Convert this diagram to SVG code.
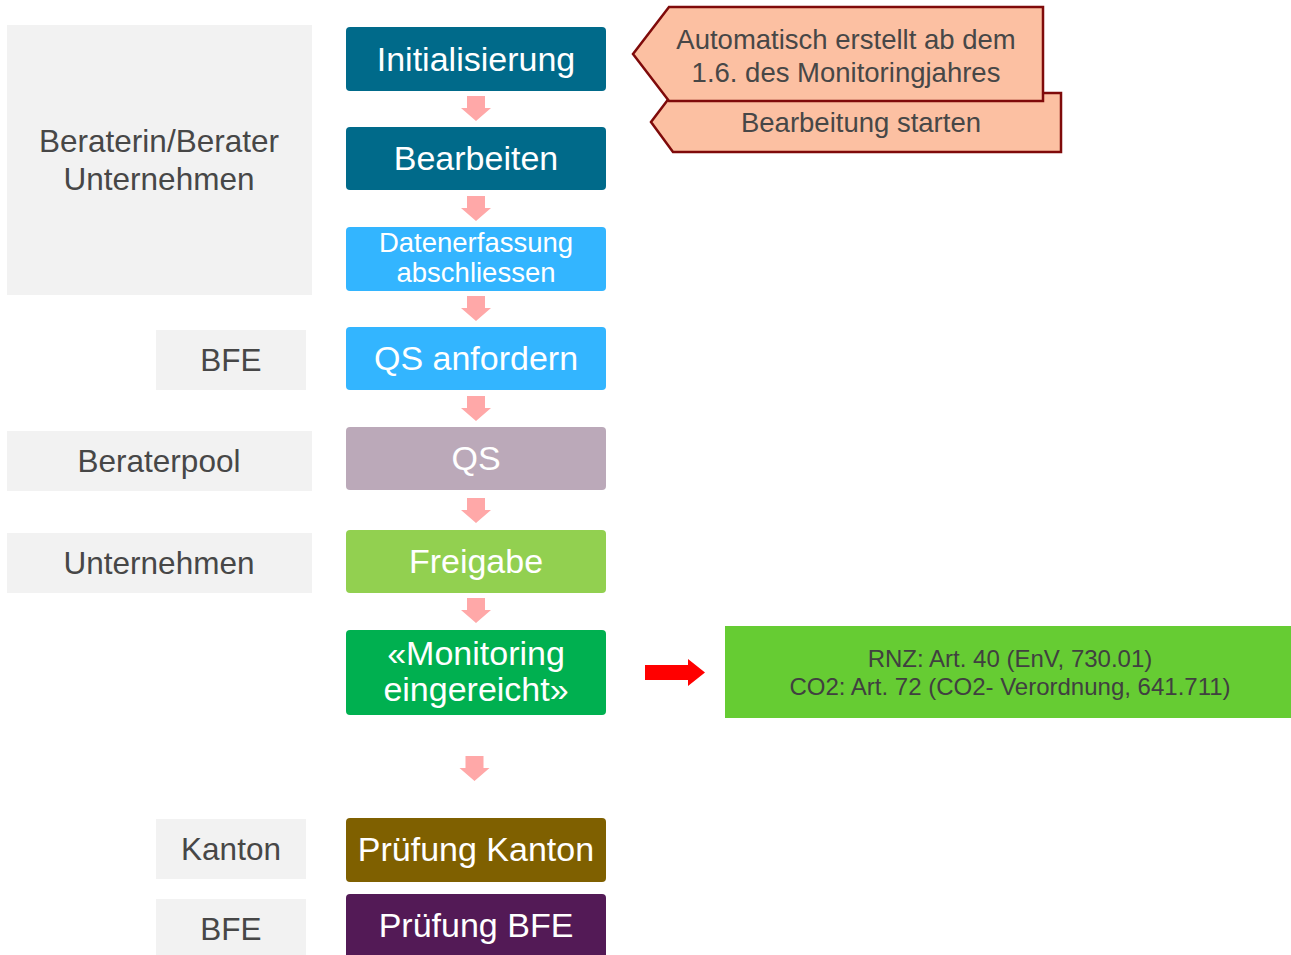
<svg xmlns="http://www.w3.org/2000/svg" width="1291" height="955" viewBox="0 0 1291 955">
<style>
.lane{fill:#f2f2f2}
.lt{font-family:"Liberation Sans",Arial,sans-serif;font-size:31.5px;fill:#474747;text-anchor:middle}
.bt{font-family:"Liberation Sans",Arial,sans-serif;font-size:34px;fill:#ffffff;text-anchor:middle}
.ct{font-family:"Liberation Sans",Arial,sans-serif;font-size:27.5px;fill:#474747;text-anchor:middle}
.gt{font-family:"Liberation Sans",Arial,sans-serif;font-size:24px;fill:#404040;text-anchor:middle}
.pa{fill:#ffa8a8}
.callout{fill:#fcc0a2;stroke:#7f0a0a;stroke-width:2.5}
</style>
<defs>
<path id="parr" d="M-9,0 H9 V12 H15 L0,25 L-15,12 H-9 Z"/>
</defs>
<rect width="1291" height="955" fill="#ffffff"/>

<g id="lane-berater"><rect class="lane" x="7" y="25" width="305" height="270"/><text class="lt" x="159" y="152">Beraterin/Berater</text><text class="lt" x="159" y="190">Unternehmen</text></g>
<g id="lane-bfe1"><rect class="lane" x="156" y="330" width="150" height="60"/><text class="lt" x="231" y="371">BFE</text></g>
<g id="lane-beraterpool"><rect class="lane" x="7" y="431" width="305" height="60"/><text class="lt" x="159" y="472">Beraterpool</text></g>
<g id="lane-unternehmen"><rect class="lane" x="7" y="533" width="305" height="60"/><text class="lt" x="159" y="574">Unternehmen</text></g>
<g id="lane-kanton"><rect class="lane" x="156" y="819" width="150" height="60"/><text class="lt" x="231" y="860">Kanton</text></g>
<g id="lane-bfe2"><rect class="lane" x="156" y="899" width="150" height="56"/><text class="lt" x="231" y="940">BFE</text></g>

<g id="callout-bearbeitung"><path class="callout" d="M673,93 H1061 V152 H673 L651,122 Z"/><text class="ct" x="861" y="132">Bearbeitung starten</text></g>
<g id="callout-automatisch"><path class="callout" d="M669,7 H1043 V101 H669 L633,54 Z"/><text class="ct" x="846" y="49">Automatisch erstellt ab dem</text><text class="ct" x="846" y="82">1.6. des Monitoringjahres</text></g>

<g id="n-init"><rect x="346" y="27" width="260" height="64" rx="4" fill="#006a8a"/><text class="bt" x="476" y="71">Initialisierung</text></g>
<g id="n-bearbeiten"><rect x="346" y="127" width="260" height="63" rx="4" fill="#006a8a"/><text class="bt" x="476" y="170">Bearbeiten</text></g>
<g id="n-daten"><rect x="346" y="227" width="260" height="64" rx="4" fill="#33b5ff"/><text class="bt" style="font-size:27.5px" x="476" y="252">Datenerfassung</text><text class="bt" style="font-size:27.5px" x="476" y="282">abschliessen</text></g>
<g id="n-qsanf"><rect x="346" y="327" width="260" height="63" rx="4" fill="#33b5ff"/><text class="bt" x="476" y="370">QS anfordern</text></g>
<g id="n-qs"><rect x="346" y="427" width="260" height="63" rx="4" fill="#bba9b9"/><text class="bt" x="476" y="470">QS</text></g>
<g id="n-freigabe"><rect x="346" y="530" width="260" height="63" rx="4" fill="#92d050"/><text class="bt" x="476" y="573">Freigabe</text></g>
<g id="n-monitoring"><rect x="346" y="630" width="260" height="85" rx="4" fill="#00b050"/><text class="bt" x="476" y="665">«Monitoring</text><text class="bt" x="476" y="701">eingereicht»</text></g>
<g id="n-kanton"><rect x="346" y="818" width="260" height="64" rx="4" fill="#7f6000"/><text class="bt" x="476" y="861">Prüfung Kanton</text></g>
<g id="n-bfe"><rect x="346" y="894" width="260" height="70" rx="4" fill="#531a56"/><text class="bt" x="476" y="937">Prüfung BFE</text></g>

<g id="n-rechtsgrundlage"><rect x="725" y="626" width="566" height="92" fill="#66cc33"/><text class="gt" x="1010" y="667">RNZ: Art. 40 (EnV, 730.01)</text><text class="gt" x="1010" y="695">CO2: Art. 72 (CO2- Verordnung, 641.711)</text></g>

<g id="connectors">
<use href="#parr" class="pa" x="476" y="96"/>
<use href="#parr" class="pa" x="476" y="196"/>
<use href="#parr" class="pa" x="476" y="296"/>
<use href="#parr" class="pa" x="476" y="396"/>
<use href="#parr" class="pa" x="476" y="498"/>
<use href="#parr" class="pa" x="476" y="598"/>
<use href="#parr" class="pa" x="474.5" y="756"/>
<path d="M645,665 H688 V659 L705,672.5 L688,686 V680 H645 Z" fill="#ff0000"/>
</g>
</svg>
